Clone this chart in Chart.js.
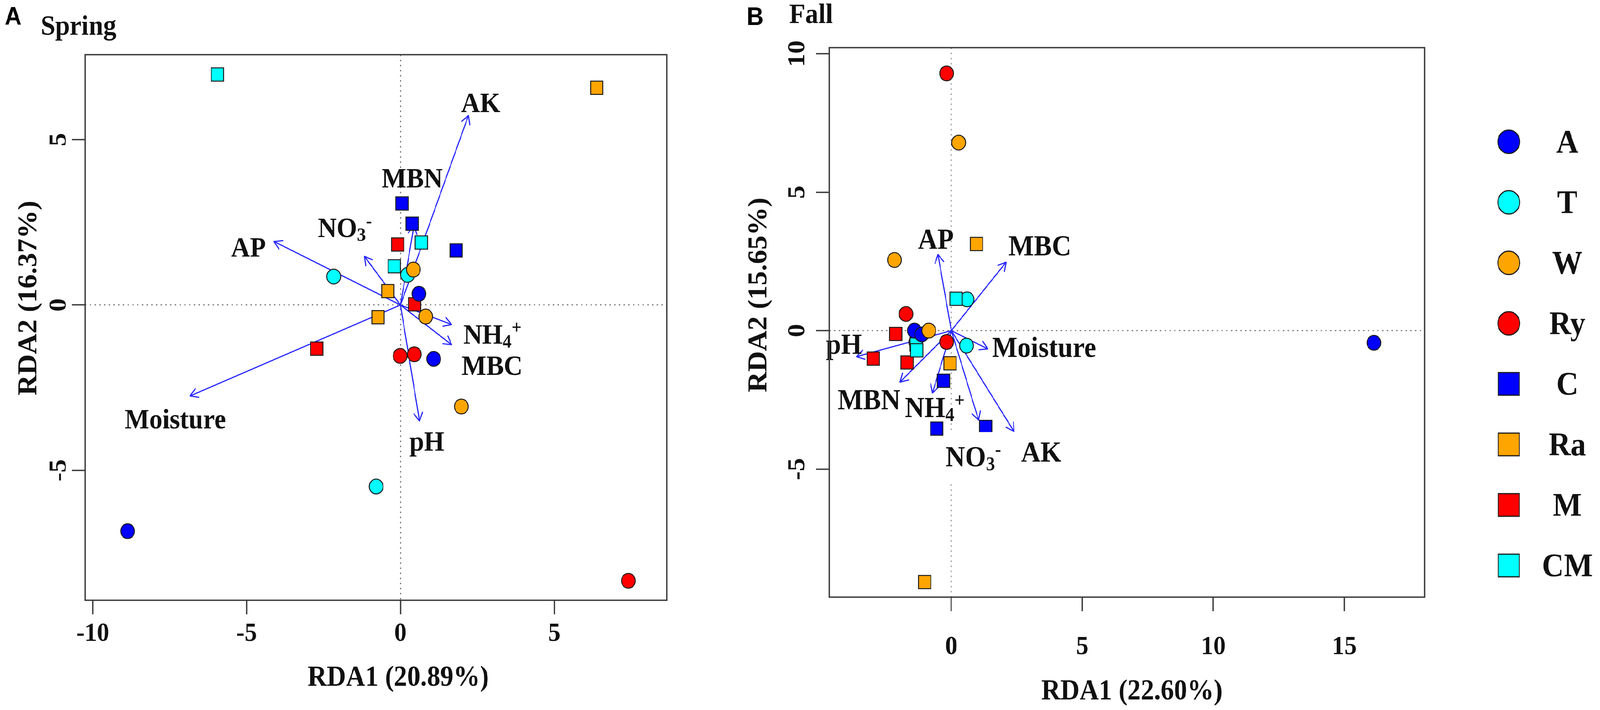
<!DOCTYPE html>
<html lang="en">
<head>
  <meta charset="UTF-8" />
  <title>RDA Spring / Fall</title>
  <script src="https://cdn.jsdelivr.net/npm/chart.js"></script>
  <style>
    html, body { margin: 0; padding: 0; background: #fff; overflow: hidden; }
    #page { width: 4403px; height: 1818px; position: relative; transform-origin: 0 0; background: #fff; }
    canvas { position: absolute; top: 0; }
    #chartA { left: 0; }
    #chartB { left: 1950px; }
  </style>
</head>
<body>

<div id="page">
  <canvas id="chartA" width="1950" height="1818"></canvas>
  <canvas id="chartB" width="2453" height="1818"></canvas>
</div>

<script>
  // treatments, in legend order
  const groups = ["A", "T", "W", "Ry", "C", "Ra", "M", "CM"];

  // sample scores (3 replicates per treatment), Spring
  const springRDA1 = [
    [0.60, 1.08, -8.87],
    [-2.17, 0.23, -0.79],
    [0.42, 0.82, 1.98],
    [-0.01, 0.45, 7.41],
    [0.05, 0.38, 1.81],
    [-0.41, -0.73, 6.38],
    [-0.09, 0.46, -2.72],
    [0.68, -0.20, -5.95]
  ];
  const springRDA2 = [
    [0.34, -1.63, -6.84],
    [0.86, 0.91, -5.49],
    [1.07, -0.35, -3.07],
    [-1.54, -1.49, -8.34],
    [3.07, 2.46, 1.65],
    [0.42, -0.37, 6.57],
    [1.83, 0.02, -1.32],
    [1.89, 1.17, 6.97]
  ];

  // sample scores, Fall
  const fallRDA1 = [
    [-1.41, -1.13, 16.13],
    [0.60, 0.58, -1.36],
    [0.28, -2.17, -0.86],
    [-0.18, -1.73, -0.18],
    [-0.30, -0.56, 1.31],
    [0.96, -0.05, -1.02],
    [-2.12, -2.98, -1.69],
    [0.18, -1.34, -1.32]
  ];
  const fallRDA2 = [
    [0.00, -0.14, -0.44],
    [1.13, -0.54, -0.42],
    [6.79, 2.55, 0.00],
    [9.29, 0.60, -0.41],
    [-1.81, -3.54, -3.48],
    [3.13, -1.18, -9.08],
    [-0.12, -1.01, -1.15],
    [1.15, -0.50, -0.71]
  ];

  // environmental vectors (arrow tips)
  const envVars = ["AK", "MBN", "AP", "NO3-", "NH4+", "MBC", "pH", "Moisture"];
  const springArrowX = [2.21, 0.44, -4.11, -1.17, 1.66, 1.66, 0.62, -6.84];
  const springArrowY = [5.73, 2.40, 1.92, 1.47, -0.59, -1.20, -3.51, -2.75];
  const fallArrowX = [2.39, -1.96, -0.51, 1.04, -0.72, 2.09, -3.62, 1.39];
  const fallArrowY = [-3.64, -1.86, 2.75, -3.23, -2.25, 2.47, -0.94, -0.66];

  // tick labels
  const springXTicks = [-10, -5, 0, 5];
  const springYTicks = [-5, 0, 5];
  const fallXTicks = [0, 5, 10, 15];
  const fallYTicks = [-5, 0, 5, 10];

  // ---- styling / layout ----
  const serif = '"Liberation Serif", "Times New Roman", serif';
  const sans = '"Liberation Sans", Arial, sans-serif';
  const groupColors = ["#0000ff", "#00ffff", "#ffa500", "#ff0000", "#0000ff", "#ffa500", "#ff0000", "#00ffff"];
  const groupShapes = ["circle", "circle", "circle", "circle", "rect", "rect", "rect", "rect"];
  const groupLayer = [2, 8, 1, 3, 5, 4, 7, 6];   // higher = drawn earlier (underneath)
  const arrowBlue = "#2626ff";
  const frameColor = "#3a3a3a";

  const springLabelAt = {
    "AK": [2.61, 6.11], "MBN": [0.38, 3.84], "AP": [-4.94, 1.74], "NO3-": [-1.81, 2.34],
    "NH4+": [2.99, -0.89], "MBC": [2.98, -1.83], "pH": [0.86, -4.13], "Moisture": [-7.32, -3.45]
  };
  const fallLabelAt = {
    "AK": [3.43, -4.39], "MBN": [-3.14, -2.49], "AP": [-0.59, 3.30], "NO3-": [0.84, -4.55],
    "NH4+": [-0.63, -2.78], "MBC": [3.38, 3.06], "pH": [-4.10, -0.50], "Moisture": [3.54, -0.60]
  };

  const panelA = {
    canvas: "chartA", xs: springRDA1, ys: springRDA2, ax: springArrowX, ay: springArrowY,
    labelAt: springLabelAt, xTicks: springXTicks, yTicks: springYTicks,
    xMin: -10.254, xMax: 8.659, yMin: -8.929, yMax: 7.57,
    padTop: 140, padRight: 115, yWidth: 234, xHeight: 281, xTickPad: 10, yTickX: 163,
    xTitle: "RDA1 (20.89%)", xTitleAt: [1096, 1737],
    yTitle: "RDA2 (16.37%)", yTitleAt: [81, 763],
    letter: "A", letterAt: [13, 63], season: "Spring", seasonAt: [112, 89],
    labelSize: 72, clearBehind: [], legend: false
  };
  const panelB = {
    canvas: "chartB", xs: fallRDA1, ys: fallRDA2, ax: fallArrowX, ay: fallArrowY,
    labelAt: fallLabelAt, xTicks: fallXTicks, yTicks: fallYTicks,
    xMin: -4.66, xMax: 18.06, yMin: -9.625, yMax: 10.22,
    padTop: 122, padRight: 483, yWidth: 332, xHeight: 289, xTickPad: 52, yTickX: 245,
    xTitle: "RDA1 (22.60%)", xTitleAt: [1165, 1772],
    yTitle: "RDA2 (15.65%)", yTitleAt: [140, 755],
    letter: "B", letterAt: [105, 64], season: "Fall", seasonAt: [222, 59],
    labelSize: 74, clearBehind: ["NO3-"], legend: true
  };

  // keep the whole 4403x1818 figure inside the viewport
  function fitPage() {
    const sx = window.innerWidth / 4403;
    const sy = window.innerHeight / 1818;
    if (sx > 0 && sy > 0 && (Math.abs(sx - 1) > 0.002 || Math.abs(sy - 1) > 0.002)) {
      document.getElementById("page").style.transform = `scale(${sx}, ${sy})`;
    }
  }
  fitPage();
  window.addEventListener("resize", fitPage);

  function richParts(name) {
    if (name === "NO3-") return [["NO", 0], ["3", 1], ["-", -1]];
    if (name === "NH4+") return [["NH", 0], ["4", 1], ["+", -1]];
    return [[name, 0]];
  }

  // draws a label centred on (cx, cy), with sub/superscripts
  function drawRich(ctx, name, cx, cy, size, clear) {
    const parts = richParts(name);
    const small = Math.round(size * 0.68);
    let total = 0;
    const widths = parts.map(([t, k]) => {
      ctx.font = `bold ${k ? small : size}px ${serif}`;
      const w = ctx.measureText(t).width;
      total += w;
      return w;
    });
    let x = cx - total / 2;
    const base = cy + size * 0.33;
    if (clear) {
      ctx.fillStyle = "#fff";
      ctx.fillRect(x - 6, cy - size * 0.85, total + 12, size * 1.7);
    }
    ctx.fillStyle = "#111";
    ctx.textAlign = "left";
    ctx.textBaseline = "alphabetic";
    parts.forEach(([t, k], i) => {
      ctx.font = `bold ${k ? small : size}px ${serif}`;
      const dy = k === 1 ? size * 0.14 : (k === -1 ? -size * 0.36 : 0);
      ctx.fillText(t, x, base + dy);
      x += widths[i];
    });
  }

  function drawMarker(ctx, shape, color, x, y, r) {
    ctx.beginPath();
    if (shape === "circle") ctx.arc(x, y, r, 0, Math.PI * 2);
    else ctx.rect(x - r, y - r, 2 * r, 2 * r);
    ctx.fillStyle = color;
    ctx.fill();
    ctx.lineWidth = 3;
    ctx.strokeStyle = "#1a1a1a";
    ctx.stroke();
  }

  function makeDecor(cfg) {
    return {
      id: "rdaDecor",
      afterDatasetDraw(chart, args) {
        const ds = chart.data.datasets[args.index];
        if (!ds.isArrow) return;
        const [p0, p1] = args.meta.data;
        const ang = Math.atan2(p1.y - p0.y, p1.x - p0.x);
        const len = 24, spread = Math.PI / 6;
        const ctx = chart.ctx;
        ctx.save();
        ctx.strokeStyle = ds.borderColor;
        ctx.lineWidth = ds.borderWidth;
        ctx.lineCap = "round";
        ctx.beginPath();
        [-1, 1].forEach(s => {
          ctx.moveTo(p1.x, p1.y);
          ctx.lineTo(p1.x - len * Math.cos(ang + s * spread), p1.y - len * Math.sin(ang + s * spread));
        });
        ctx.stroke();
        ctx.restore();
      },
      afterDatasetsDraw(chart) {
        const ctx = chart.ctx;
        const sx = chart.scales.x, sy = chart.scales.y;
        ctx.save();
        envVars.forEach(name => {
          const [lx, ly] = cfg.labelAt[name];
          drawRich(ctx, name, sx.getPixelForValue(lx), sy.getPixelForValue(ly),
            cfg.labelSize, cfg.clearBehind.includes(name));
        });
        ctx.restore();
      },
      afterDraw(chart) {
        const ctx = chart.ctx;
        const a = chart.chartArea;
        const sy = chart.scales.y;
        ctx.save();

        // box
        ctx.strokeStyle = frameColor;
        ctx.lineWidth = 3.5;
        ctx.strokeRect(a.left, a.top, a.right - a.left, a.bottom - a.top);

        // rotated y tick labels (R style)
        ctx.fillStyle = "#111";
        ctx.font = `bold 68px ${serif}`;
        ctx.textAlign = "center";
        ctx.textBaseline = "middle";
        sy.ticks.forEach(t => {
          ctx.save();
          ctx.translate(cfg.yTickX, sy.getPixelForValue(t.value));
          ctx.rotate(-Math.PI / 2);
          ctx.fillText(String(t.value), 0, 0);
          ctx.restore();
        });

        // axis titles
        ctx.font = `bold 73px ${serif}`;
        ctx.fillText(cfg.xTitle, cfg.xTitleAt[0], cfg.xTitleAt[1]);
        ctx.save();
        ctx.translate(cfg.yTitleAt[0], cfg.yTitleAt[1]);
        ctx.rotate(-Math.PI / 2);
        ctx.fillText(cfg.yTitle, 0, 0);
        ctx.restore();

        // panel letter and season
        ctx.textAlign = "left";
        ctx.textBaseline = "alphabetic";
        ctx.fillStyle = "#000";
        ctx.font = `bold 64px ${sans}`;
        ctx.fillText(cfg.letter, cfg.letterAt[0], cfg.letterAt[1]);
        ctx.fillStyle = "#111";
        ctx.font = `bold 72px ${serif}`;
        ctx.fillText(cfg.season, cfg.seasonAt[0], cfg.seasonAt[1]);

        // legend
        if (cfg.legend) {
          const top = 363, step = 155, mx = 2202, tx = 2363;
          chart.data.datasets.filter(d => !d.isArrow).forEach(d => {
            const i = groups.indexOf(d.label);
            const y = top + i * step;
            drawMarker(ctx, groupShapes[i], groupColors[i], mx, y, groupShapes[i] === "circle" ? 30 : 29);
            ctx.fillStyle = "#111";
            ctx.font = `bold 84px ${serif}`;
            ctx.textAlign = "center";
            ctx.fillText(d.label, tx, y + 84 * 0.33);
          });
        }
        ctx.restore();
      }
    };
  }

  function axisOptions(cfg, ticks, isX) {
    return {
      type: "linear",
      min: isX ? cfg.xMin : cfg.yMin,
      max: isX ? cfg.xMax : cfg.yMax,
      afterBuildTicks: s => { s.ticks = ticks.map(v => ({ value: v })); },
      afterFit: s => { if (isX) s.height = cfg.xHeight; else s.width = cfg.yWidth; },
      ticks: {
        display: isX,
        autoSkip: false,
        maxRotation: 0,
        minRotation: 0,
        padding: cfg.xTickPad,
        color: "#111",
        font: { family: serif, weight: "bold", size: 68 },
        callback: v => String(v)
      },
      grid: {
        display: true,
        drawOnChartArea: true,
        drawTicks: true,
        tickLength: 36,
        tickWidth: 3.5,
        tickColor: frameColor,
        lineWidth: 3,
        color: c => (c.tick && c.tick.value === 0) ? "#808080" : "rgba(0,0,0,0)"
      },
      border: { display: false, dash: [4, 9] }
    };
  }

  function buildPanel(cfg) {
    const pointSets = groups.map((g, i) => ({
      label: g,
      data: cfg.xs[i].map((x, j) => ({ x: x, y: cfg.ys[i][j] })),
      pointStyle: groupShapes[i],
      pointRadius: groupShapes[i] === "circle" ? 19 : 24,
      pointHoverRadius: groupShapes[i] === "circle" ? 19 : 24,
      pointBackgroundColor: groupColors[i],
      pointBorderColor: "#1a1a1a",
      pointBorderWidth: 2.5,
      order: groupLayer[i]
    }));
    const arrowSets = envVars.map((v, i) => ({
      label: v,
      isArrow: true,
      data: [{ x: 0, y: 0 }, { x: cfg.ax[i], y: cfg.ay[i] }],
      showLine: true,
      borderColor: arrowBlue,
      borderWidth: 3,
      pointRadius: 0,
      pointHoverRadius: 0,
      order: 100
    }));

    const ctx = document.getElementById(cfg.canvas).getContext("2d");
    return new Chart(ctx, {
      type: "scatter",
      data: { datasets: arrowSets.concat(pointSets) },
      options: {
        responsive: false,
        devicePixelRatio: 1,
        animation: false,
        events: [],
        layout: { padding: { top: cfg.padTop, right: cfg.padRight, bottom: 0, left: 0 } },
        plugins: { legend: { display: false }, tooltip: { enabled: false } },
        scales: {
          x: axisOptions(cfg, cfg.xTicks, true),
          y: axisOptions(cfg, cfg.yTicks, false)
        }
      },
      plugins: [makeDecor(cfg)]
    });
  }

  buildPanel(panelA);
  buildPanel(panelB);
</script>
</body>
</html>
